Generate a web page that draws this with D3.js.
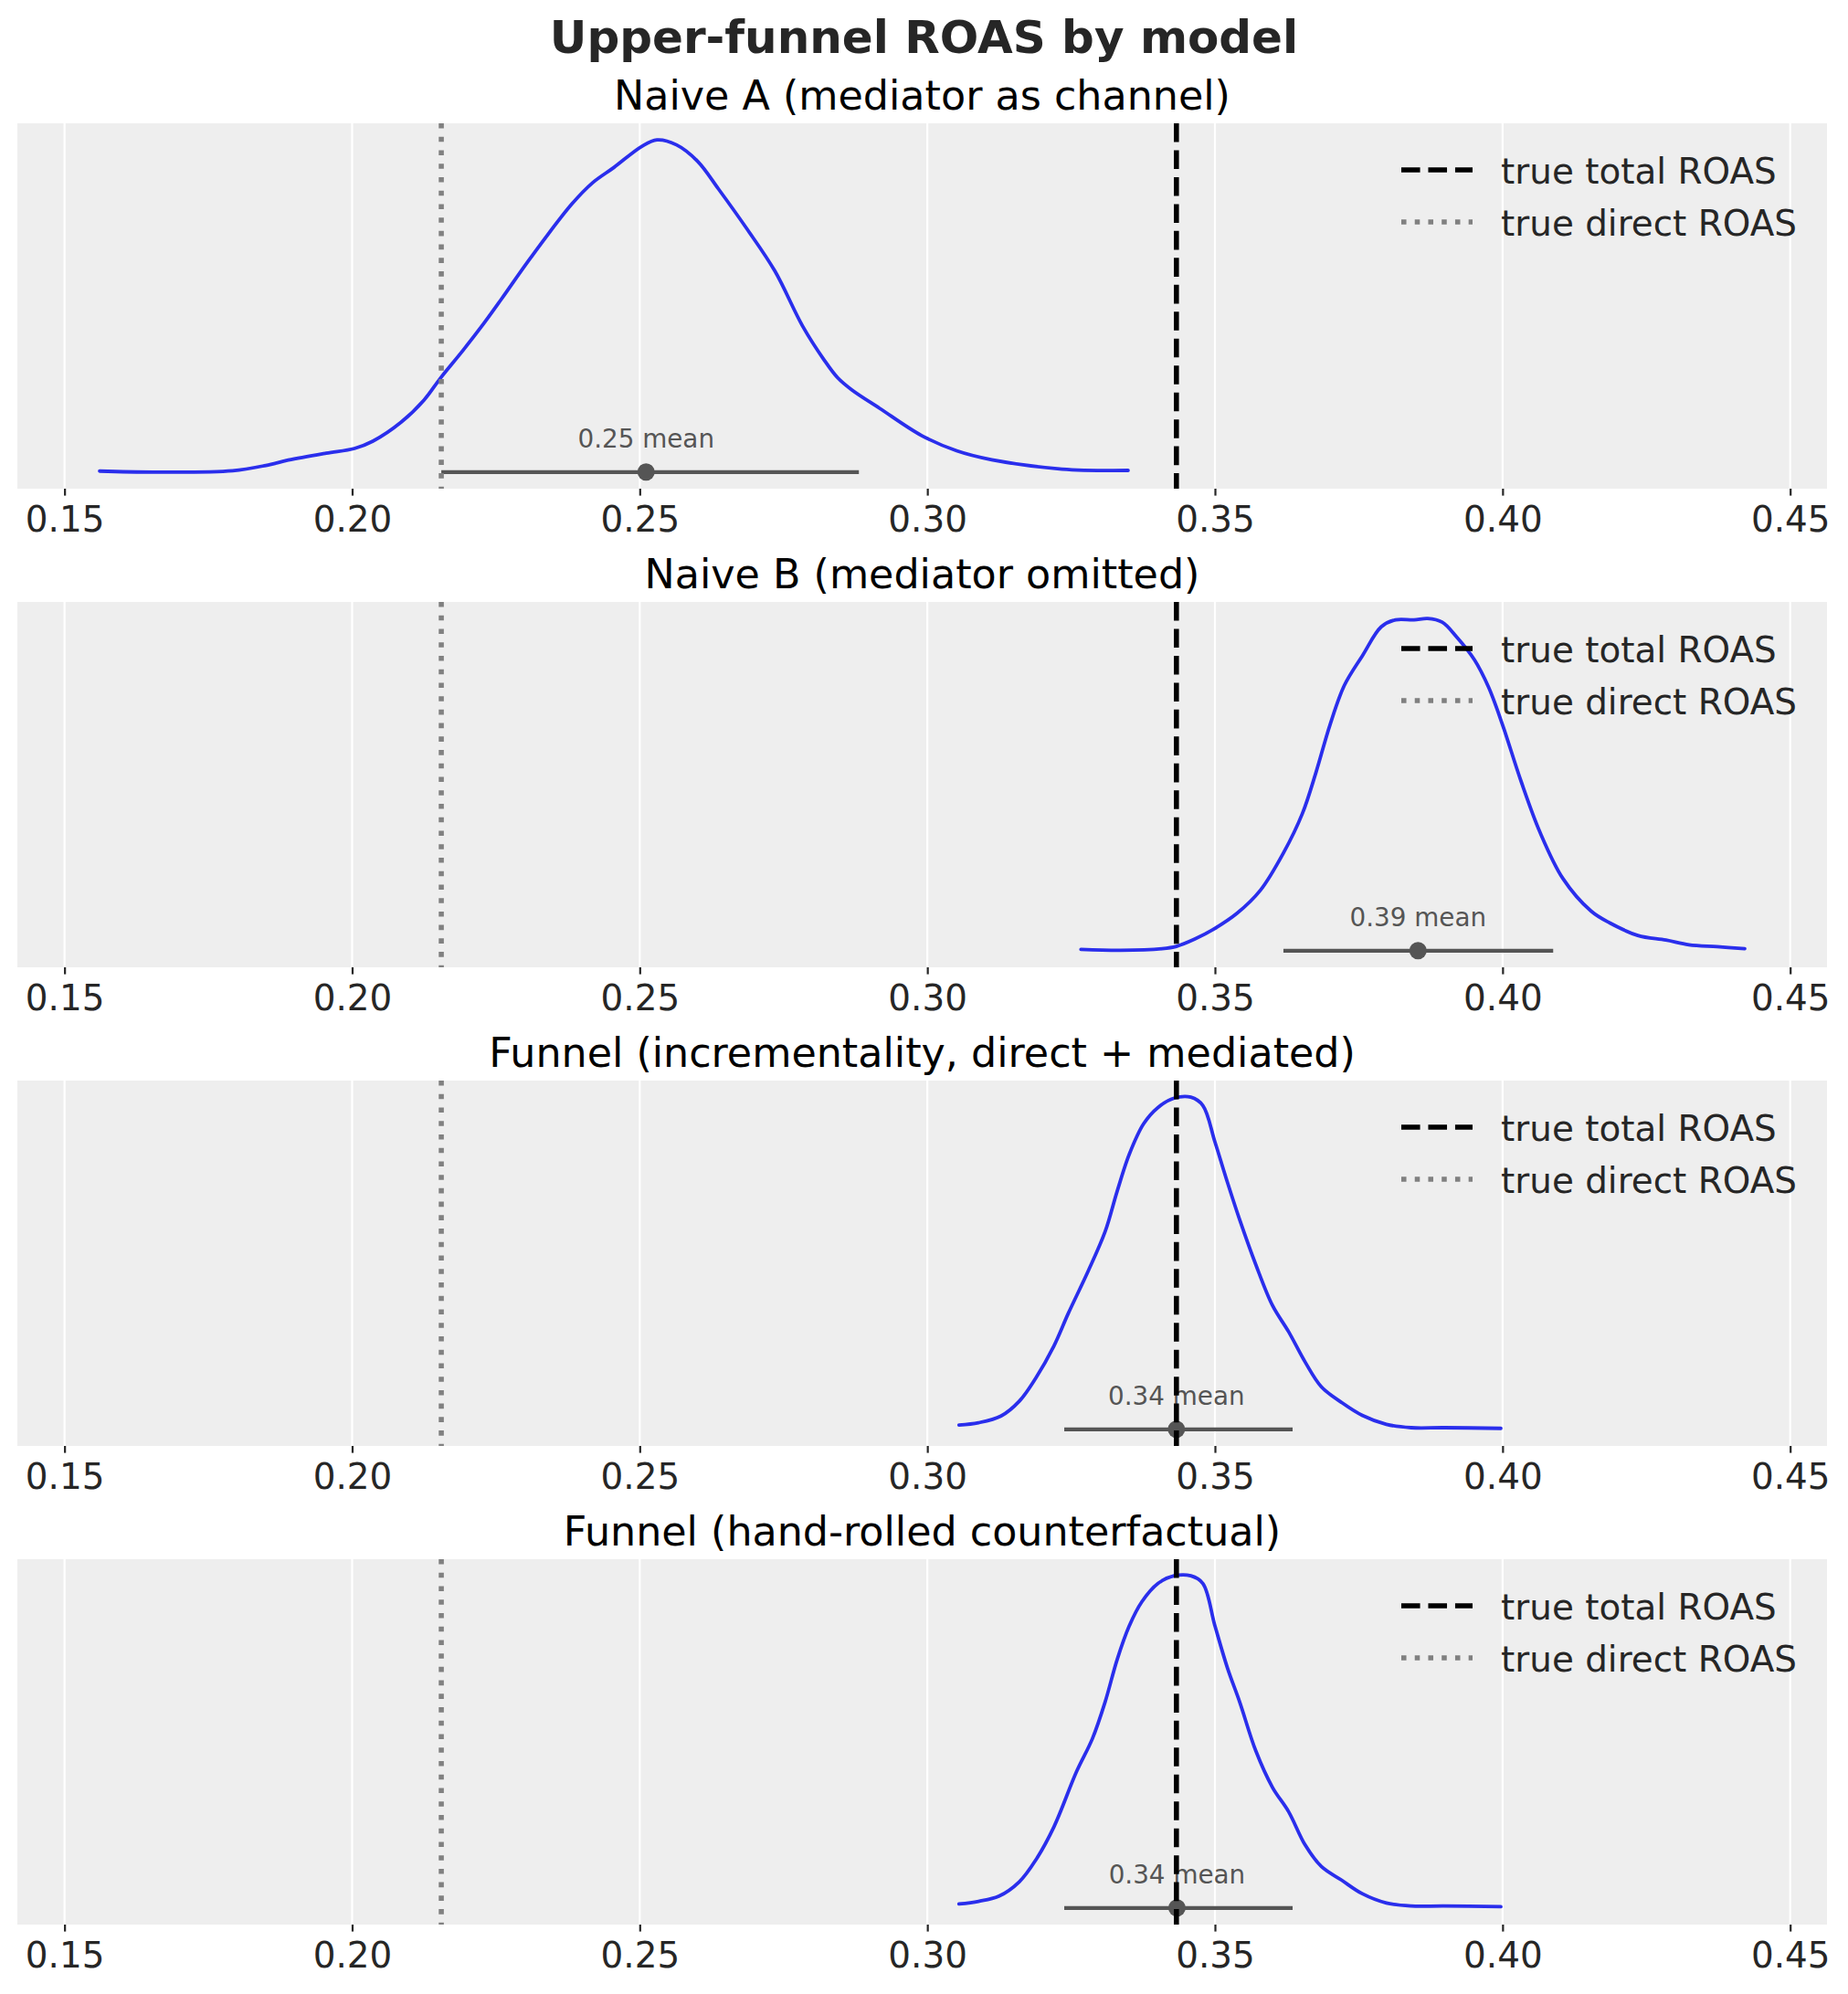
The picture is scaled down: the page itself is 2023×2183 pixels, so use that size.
<!DOCTYPE html>
<html>
<head>
<meta charset="utf-8">
<script src="https://cdn.jsdelivr.net/npm/d3@7"></script>
<style>
  html, body { margin: 0; padding: 0; background: #ffffff; }
  svg { display: block; }
  text { font-family: "DejaVu Sans", sans-serif; }
</style>
</head>
<body>
<svg id="chart" width="2023" height="2183"></svg>
<script>
// ---------------- DATA ----------------
const figureTitle = "Upper-funnel ROAS by model";
const panelTitles = [
  "Naive A (mediator as channel)",
  "Naive B (mediator omitted)",
  "Funnel (incrementality, direct + mediated)",
  "Funnel (hand-rolled counterfactual)"
];
const xTicks = [0.15, 0.20, 0.25, 0.30, 0.35, 0.40, 0.45];
const trueTotalROAS = 0.3433;
const trueDirectROAS = 0.2155;
const legendLabels = ["true total ROAS", "true direct ROAS"];

// KDE curves: [roas, density relative to the panel's peak]
const kdeNaiveA = [
  [0.1561,0.003],[0.1654,0.000],[0.1792,0.004],[0.1850,0.020],[0.1889,0.036],
  [0.1955,0.057],[0.2004,0.071],[0.2036,0.093],[0.2085,0.150],[0.2125,0.217],
  [0.2154,0.284],[0.2193,0.367],[0.2230,0.450],[0.2260,0.522],[0.2309,0.642],
  [0.2382,0.807],[0.2418,0.871],[0.2455,0.917],[0.2504,0.981],[0.2530,1.000],
  [0.2564,0.985],[0.2601,0.935],[0.2637,0.852],[0.2686,0.733],[0.2735,0.605],
  [0.2783,0.440],[0.2820,0.339],[0.2844,0.284],[0.2869,0.247],[0.2917,0.192],
  [0.2990,0.110],[0.3051,0.064],[0.3112,0.037],[0.3234,0.009],[0.3349,0.005]
];
const kdeNaiveB = [
  [0.3267,0.004],[0.3336,0.001],[0.3408,0.006],[0.3433,0.013],[0.3465,0.035],
  [0.3498,0.065],[0.3538,0.112],[0.3579,0.182],[0.3619,0.294],[0.3652,0.413],
  [0.3676,0.539],[0.3700,0.680],[0.3725,0.799],[0.3757,0.890],[0.3789,0.975],
  [0.3814,0.996],[0.3846,0.996],[0.3870,1.000],[0.3895,0.989],[0.3919,0.947],
  [0.3951,0.876],[0.3976,0.792],[0.4000,0.680],[0.4032,0.511],[0.4065,0.357],
  [0.4105,0.217],[0.4154,0.119],[0.4186,0.084],[0.4235,0.046],[0.4284,0.032],
  [0.4324,0.018],[0.4373,0.012],[0.4421,0.006]
];
const kdeFunnelIncr = [
  [0.3055,0.013],[0.3089,0.020],[0.3128,0.040],[0.3160,0.085],[0.3188,0.153],
  [0.3220,0.251],[0.3245,0.349],[0.3280,0.478],[0.3309,0.595],[0.3330,0.717],
  [0.3351,0.828],[0.3376,0.920],[0.3401,0.969],[0.3429,0.997],[0.3458,1.000],
  [0.3479,0.975],[0.3500,0.865],[0.3522,0.742],[0.3543,0.631],[0.3571,0.496],
  [0.3600,0.373],[0.3628,0.294],[0.3657,0.202],[0.3685,0.128],[0.3720,0.081],
  [0.3756,0.042],[0.3798,0.015],[0.3841,0.005],[0.3898,0.005],[0.3997,0.003]
];
const kdeFunnelHand = [
  [0.3055,0.012],[0.3089,0.020],[0.3124,0.035],[0.3160,0.079],[0.3188,0.143],
  [0.3220,0.244],[0.3259,0.409],[0.3287,0.510],[0.3309,0.620],[0.3330,0.748],
  [0.3351,0.849],[0.3373,0.922],[0.3401,0.977],[0.3429,1.000],[0.3458,1.000],
  [0.3479,0.977],[0.3500,0.849],[0.3522,0.721],[0.3543,0.620],[0.3571,0.473],
  [0.3600,0.363],[0.3628,0.290],[0.3657,0.189],[0.3685,0.125],[0.3720,0.084],
  [0.3756,0.043],[0.3798,0.015],[0.3841,0.006],[0.3898,0.006],[0.3997,0.004]
];
const hdiLow  = [0.2155, 0.3619, 0.3238, 0.3238];
const hdiHigh = [0.2881, 0.4088, 0.3635, 0.3635];
const posteriorMeans = [0.2511, 0.3853, 0.3433, 0.3434];

// ---------------- LAYOUT / STYLE ----------------
const W = 2023, H = 2183;
const plotLeft = 19, plotRight = 2000;
const firstTop = 135, panelH = 400, panelStep = 524;
const curves = [kdeNaiveA, kdeNaiveB, kdeFunnelIncr, kdeFunnelHand];

const svg = d3.select("#chart");
svg.append("rect").attr("width", W).attr("height", H).attr("fill", "#ffffff");

// shared x scale with matplotlib-like 5% margins
const allX = curves.flat().map(d => d[0]);
const xMin = d3.min(allX), xMax = d3.max(allX), xr = xMax - xMin;
const x = d3.scaleLinear()
  .domain([xMin - 0.05 * xr, xMax + 0.05 * xr])
  .range([plotLeft, plotRight]);

const lw = 5.56; // 2pt
const dashPat = [3.7 * lw, 1.6 * lw].join(",");
const dotPat = [1 * lw, 1.65 * lw].join(",");

svg.append("text")
  .attr("x", W / 2).attr("y", 58)
  .attr("text-anchor", "middle")
  .attr("font-size", 50).attr("font-weight", "bold")
  .attr("fill", "#262626")
  .text(figureTitle);

curves.forEach((data, i) => {
  const top = firstTop + i * panelStep;
  const bottom = top + panelH;
  const y = d3.scaleLinear().domain([-0.05, 1.05]).range([bottom, top]);
  const g = svg.append("g");

  // background
  g.append("rect")
    .attr("x", plotLeft).attr("y", top)
    .attr("width", plotRight - plotLeft).attr("height", panelH)
    .attr("fill", "#eeeeee");

  // grid
  g.selectAll(".grid").data(xTicks).enter().append("line")
    .attr("x1", d => x(d)).attr("x2", d => x(d))
    .attr("y1", top).attr("y2", bottom)
    .attr("stroke", "#ffffff").attr("stroke-width", 2.2);

  // axis ticks and labels
  const axis = d3.axisBottom(x).tickValues(xTicks)
    .tickFormat(d3.format(".2f")).tickSize(7.6).tickPadding(12);
  const ag = g.append("g").attr("transform", `translate(0,${bottom})`).call(axis);
  ag.select(".domain").remove();
  ag.selectAll(".tick line").attr("stroke", "#262626").attr("stroke-width", 2.2);
  ag.selectAll(".tick text")
    .attr("font-size", 38.9).attr("fill", "#262626")
    .attr("font-family", "DejaVu Sans").attr("dy", "0.71em");

  // panel title
  g.append("text")
    .attr("x", (plotLeft + plotRight) / 2).attr("y", top - 15)
    .attr("text-anchor", "middle").attr("font-size", 44.4).attr("fill", "#000000")
    .text(panelTitles[i]);

  // KDE
  const line = d3.line().x(d => x(d[0])).y(d => y(d[1]))
    .curve(d3.curveCatmullRom.alpha(0.5));
  g.append("path").datum(data)
    .attr("d", line).attr("fill", "none")
    .attr("stroke", "#2a2eec").attr("stroke-width", 3.8)
    .attr("stroke-linejoin", "round").attr("stroke-linecap", "round");

  // HDI and mean
  g.append("line")
    .attr("x1", x(hdiLow[i])).attr("x2", x(hdiHigh[i]))
    .attr("y1", y(0)).attr("y2", y(0))
    .attr("stroke", "#555555").attr("stroke-width", 4.2);
  g.append("circle")
    .attr("cx", x(posteriorMeans[i])).attr("cy", y(0)).attr("r", 9.5)
    .attr("fill", "#555555");
  g.append("text")
    .attr("x", x(posteriorMeans[i])).attr("y", y(0) - 27)
    .attr("text-anchor", "middle").attr("font-size", 27.8).attr("fill", "#555555")
    .text(`${posteriorMeans[i].toFixed(2)} mean`);

  // reference lines
  g.append("line")
    .attr("x1", x(trueTotalROAS)).attr("x2", x(trueTotalROAS))
    .attr("y1", top).attr("y2", bottom)
    .attr("stroke", "#000000").attr("stroke-width", lw)
    .attr("stroke-dasharray", dashPat);
  g.append("line")
    .attr("x1", x(trueDirectROAS)).attr("x2", x(trueDirectROAS))
    .attr("y1", top).attr("y2", bottom)
    .attr("stroke", "#808080").attr("stroke-width", lw)
    .attr("stroke-dasharray", dotPat);

  // legend
  const legendStyles = [
    { color: "#000000", dash: dashPat },
    { color: "#808080", dash: dotPat }
  ];
  legendLabels.forEach((lab, k) => {
    const cy = top + 51 + k * 57;
    g.append("line")
      .attr("x1", 1534).attr("x2", 1612).attr("y1", cy).attr("y2", cy)
      .attr("stroke", legendStyles[k].color).attr("stroke-width", lw)
      .attr("stroke-dasharray", legendStyles[k].dash);
    g.append("text")
      .attr("x", 1643).attr("y", cy + 14.5)
      .attr("font-size", 38.9).attr("fill", "#262626")
      .text(lab);
  });
});
</script>
</body>
</html>
